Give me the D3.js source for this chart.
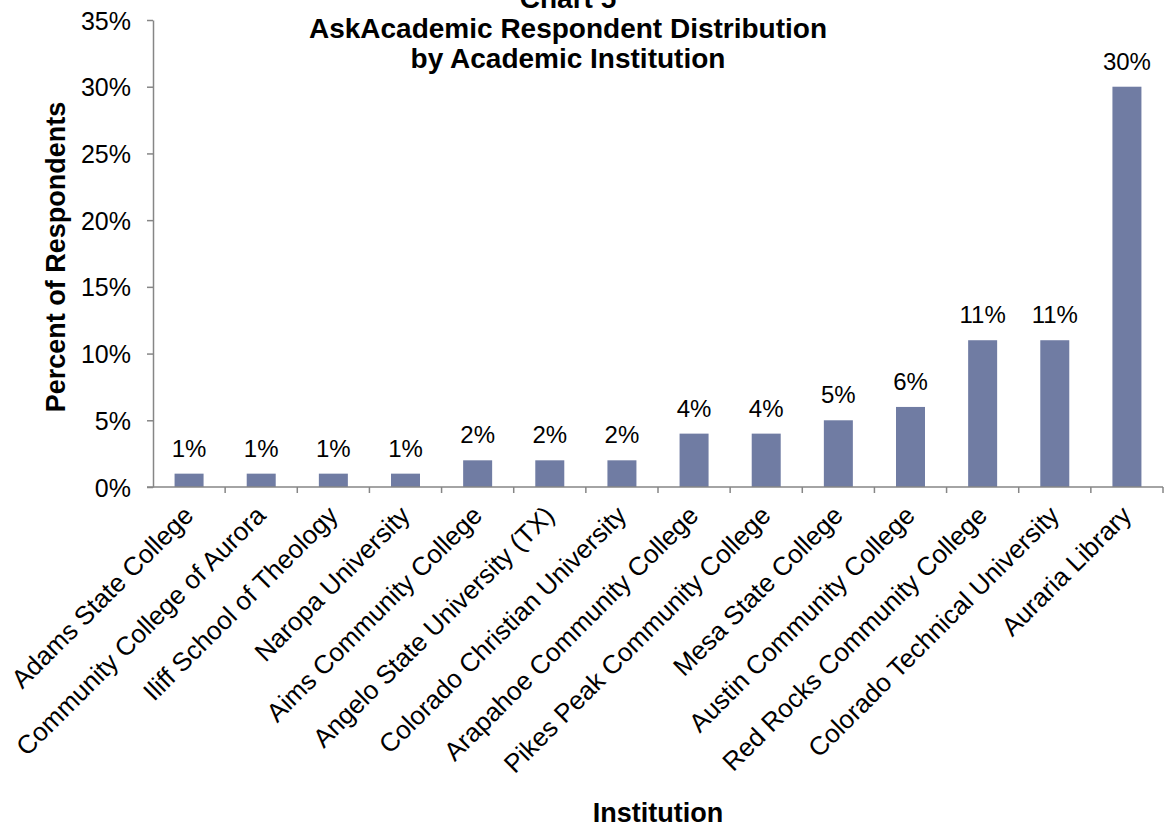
<!DOCTYPE html>
<html><head><meta charset="utf-8">
<script src="https://cdn.jsdelivr.net/npm/d3@7"></script>
<style>body{margin:0;background:#fff;}svg{display:block;font-family:"Liberation Sans",Arial,sans-serif;}</style>
</head><body>
<svg id="c" width="1168" height="827"></svg>
<script>
const categories = ["Adams State College","Community College of Aurora","Iliff School of Theology","Naropa University","Aims Community College","Angelo State University (TX)","Colorado Christian University","Arapahoe Community College","Pikes Peak Community College","Mesa State College","Austin Community College","Red Rocks Community College","Colorado Technical University","Auraria Library"];
const values = [1,1,1,1,2,2,2,4,4,5,6,11,11,30];
const yTicks = [0,5,10,15,20,25,30,35];
const titleLines = ["Chart 5","AskAcademic Respondent Distribution","by Academic Institution"];

const svg = d3.select("#c");
const m = {left:153, right:1163, top:20, bottom:487};
const xb = d3.scaleBand().domain(categories).range([m.left, m.right]);
const y = d3.scaleLinear().domain([0,35]).range([m.bottom, m.top]);
const axisColor = "#868686";

// bars
svg.append("g").selectAll("rect").data(values).join("rect")
  .attr("x",(d,i)=>xb(categories[i]) + xb.bandwidth()/2 - 14.5)
  .attr("width",29)
  .attr("y",d=>y(d)).attr("height",d=>y(0)-y(d))
  .attr("fill","#707ca3");

// y axis
const ya = svg.append("g").attr("transform",`translate(${m.left},0)`)
  .call(d3.axisLeft(y).tickValues(yTicks).tickFormat(d=>d+"%").tickSize(6).tickSizeOuter(0));
ya.select(".domain").attr("stroke",axisColor).attr("stroke-width",1.5);
ya.selectAll(".tick line").attr("stroke",axisColor).attr("stroke-width",1.5);
ya.selectAll(".tick text").attr("font-size",25).attr("fill","#000").attr("x",-22).attr("dy","0.36em").attr("font-family","Liberation Sans, Arial, sans-serif");

// x axis
const xa = svg.append("g").attr("transform",`translate(0,${m.bottom})`);
xa.append("line").attr("x1",m.left-6).attr("x2",m.right).attr("y1",0).attr("y2",0).attr("stroke",axisColor).attr("stroke-width",1.5);
const bounds = categories.map(c=>xb(c)).concat([m.right]);
xa.selectAll("line.t").data(bounds.slice(1)).join("line").attr("class","t")
  .attr("x1",d=>d).attr("x2",d=>d).attr("y1",0).attr("y2",6).attr("stroke",axisColor).attr("stroke-width",1.5);
xa.selectAll("text").data(categories).join("text")
  .attr("transform",c=>`translate(${xb(c)+xb.bandwidth()/2+6},${30}) rotate(-45)`)
  .attr("text-anchor","end").attr("font-size",26).attr("fill","#000").text(c=>c);

// data labels
svg.append("g").selectAll("text").data(values).join("text")
  .attr("x",(d,i)=>xb(categories[i]) + xb.bandwidth()/2)
  .attr("y",d=>y(d)-17)
  .attr("text-anchor","middle").attr("font-size",24).attr("fill","#000")
  .text(d=>d+"%");

// title
svg.append("g").selectAll("text").data(titleLines).join("text")
  .attr("x",568).attr("y",(d,i)=>8 + i*30)
  .attr("text-anchor","middle").attr("font-size",28).attr("font-weight","bold").text(d=>d);

// axis titles
svg.append("text").attr("transform","translate(65,257) rotate(-90)")
  .attr("text-anchor","middle").attr("font-size",27).attr("font-weight","bold").text("Percent of Respondents");
svg.append("text").attr("x",658).attr("y",822)
  .attr("text-anchor","middle").attr("font-size",27).attr("font-weight","bold").text("Institution");
</script>
</body></html>
